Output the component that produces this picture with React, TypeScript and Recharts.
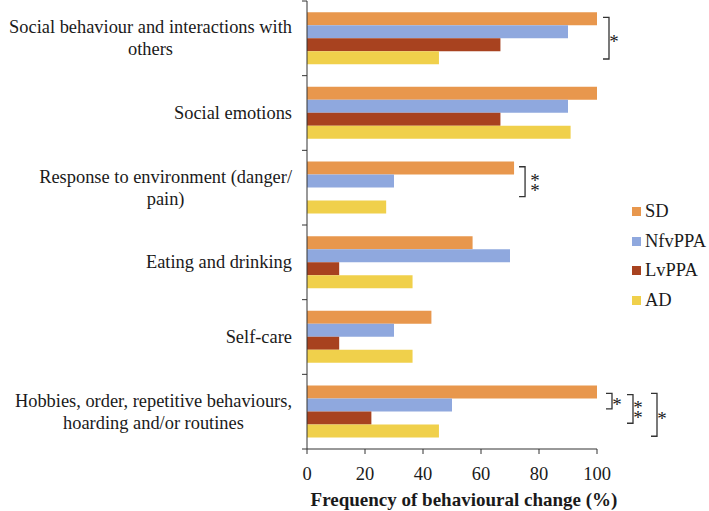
import React from "react";
import { Bar, BarChart, Label, Legend, Rectangle, XAxis, YAxis } from "recharts";

const categories = [
  "Social behaviour and interactions with\nothers",
  "Social emotions",
  "Response to environment (danger/\npain)",
  "Eating and drinking",
  "Self-care",
  "Hobbies, order, repetitive behaviours,\nhoarding and/or routines",
];
const seriesNames = ["SD", "NfvPPA", "LvPPA", "AD"];
const seriesColors = ["#E8974D", "#8FA8DE", "#A8421F", "#F0D04B"];
const sdValues = [100, 100, 71.4, 57.1, 42.9, 100];
const nfvValues = [90, 90, 30, 70, 30, 50];
const lvValues = [66.7, 66.7, 0, 11.1, 11.1, 22.2];
const adValues = [45.5, 90.9, 27.3, 36.4, 36.4, 45.5];
const xTicks = [0, 20, 40, 60, 80, 100];

// significance brackets, measured in bar heights from the top of the SD bar
const brackets = [
  { category: 0, from: 0.4, to: 3.6, dx: 6, starDx: 5, stars: 1 },
  { category: 2, from: 0.4, to: 2.7, dx: 5, starDx: 10, stars: 2 },
  { category: 5, from: 0.6, to: 1.8, dx: 9, starDx: 5, stars: 1 },
  { category: 5, from: 0.7, to: 2.9, dx: 30, starDx: 5, stars: 2 },
  { category: 5, from: 0.6, to: 3.9, dx: 54, starDx: 5, stars: 1 },
];

const FONT = "Liberation Serif";
const INK = "#1a1a1a";
const W = 709;
const H = 511;
const MARGIN = { top: 1, right: 112, bottom: 0, left: 0 };
const X_AXIS_H = 62;
const BAND = (H - MARGIN.top - MARGIN.bottom - X_AXIS_H) / categories.length;
const LABEL_SIZE = 18.4;

const rows = categories.map((c, i) => ({
  category: c,
  SD: sdValues[i],
  NfvPPA: nfvValues[i],
  LvPPA: lvValues[i],
  AD: adValues[i],
}));

let ctx: CanvasRenderingContext2D | null = null;
function textWidth(s: string) {
  if (!ctx) ctx = document.createElement("canvas").getContext("2d");
  if (!ctx) return s.length * 8;
  ctx.font = `${LABEL_SIZE}px "${FONT}"`;
  return ctx.measureText(s).width;
}

function CategoryTick(props: any) {
  const { x, y, payload, index } = props;
  const lines: string[] = String(payload.value).split("\n");
  const maxW = Math.max(...lines.map(textWidth));
  const cx = x - maxW / 2;
  const lh = 22;
  const axisX = x + 15;
  return (
    <g>
      <line x1={axisX - 5} x2={axisX} y1={y - BAND / 2} y2={y - BAND / 2} stroke="#333" />
      {index === categories.length - 1 && (
        <line x1={axisX - 5} x2={axisX} y1={y + BAND / 2} y2={y + BAND / 2} stroke="#333" />
      )}
      <text textAnchor="middle" fontSize={LABEL_SIZE} style={{ fontFamily: FONT }} fill={INK}>
        {lines.map((l, i) => (
          <tspan key={i} x={cx} y={y + 6 + (i - (lines.length - 1) / 2) * lh}>
            {l}
          </tspan>
        ))}
      </text>
    </g>
  );
}

function NumberTick(props: any) {
  const { x, y, payload } = props;
  return (
    <text x={x} y={y + 22} textAnchor="middle" fontSize={18.5} style={{ fontFamily: FONT }} fill={INK}>
      {payload.value}
    </text>
  );
}

function SdShape(props: any) {
  const { x, y, width, height, fill, payload } = props;
  const cat = categories.indexOf(payload?.category);
  const own = brackets.filter((b) => b.category === cat);
  const end = x + width;
  return (
    <g>
      <Rectangle x={x} y={y} width={width} height={height} fill={fill} />
      {own.map((b, i) => {
        const x0 = end + b.dx;
        const x1 = x0 + 6;
        const y0 = y + b.from * height;
        const y1 = y + b.to * height;
        const mid = (y0 + y1) / 2;
        const n = b.stars;
        return (
          <g key={i}>
            <path d={`M${x0},${y0}H${x1}V${y1}H${x0}`} fill="none" stroke="#333" strokeWidth={1.3} />
            <text textAnchor="middle" fontSize={19} style={{ fontFamily: FONT }} fill={INK}>
              {Array.from({ length: n }, (_, k) => (
                <tspan key={k} x={x1 + b.starDx} y={mid + (k - (n - 1) / 2) * 10 + 10}>
                  *
                </tspan>
              ))}
            </text>
          </g>
        );
      })}
    </g>
  );
}

function LegendBox() {
  return (
    <div style={{ fontFamily: FONT, fontSize: 18.5, color: INK }}>
      {seriesNames.map((name, i) => (
        <div key={name} style={{ display: "flex", alignItems: "center", height: 29.5 }}>
          <span style={{ width: 9, height: 9, background: seriesColors[i], marginRight: 4, display: "inline-block" }} />
          <span>{name}</span>
        </div>
      ))}
    </div>
  );
}

export default function App() {
  return (
    <div style={{ position: "absolute", left: 0, top: 0, background: "#fff" }}>
      <BarChart
        width={W}
        height={H}
        data={rows}
        layout="vertical"
        margin={MARGIN}
        barCategoryGap="15%"
        barGap={0}
      >
        <XAxis
          type="number"
          domain={[0, 100]}
          ticks={xTicks}
          height={X_AXIS_H}
          tickSize={5}
          tickMargin={4}
          axisLine={{ stroke: "#333" }}
          tickLine={{ stroke: "#333" }}
          tick={<NumberTick />}
        >
          <Label
            value="Frequency of behavioural change (%)"
            position="insideBottom"
            offset={5}
            dx={12}
            fontSize={19}
            fontWeight="bold"
            style={{ fontFamily: FONT }}
            fill={INK}
          />
        </XAxis>
        <YAxis
          type="category"
          dataKey="category"
          width={307}
          interval={0}
          tickSize={0}
          tickMargin={15}
          tickLine={false}
          axisLine={{ stroke: "#333" }}
          tick={<CategoryTick />}
        />
        <Legend
          layout="vertical"
          align="center"
          verticalAlign="middle"
          content={<LegendBox />}
          wrapperStyle={{ left: 632, top: 197, width: 80 }}
        />
        <Bar dataKey="SD" name="SD" fill={seriesColors[0]} shape={<SdShape />} isAnimationActive={false} />
        <Bar dataKey="NfvPPA" name="NfvPPA" fill={seriesColors[1]} isAnimationActive={false} />
        <Bar dataKey="LvPPA" name="LvPPA" fill={seriesColors[2]} isAnimationActive={false} />
        <Bar dataKey="AD" name="AD" fill={seriesColors[3]} isAnimationActive={false} />
      </BarChart>
    </div>
  );
}
